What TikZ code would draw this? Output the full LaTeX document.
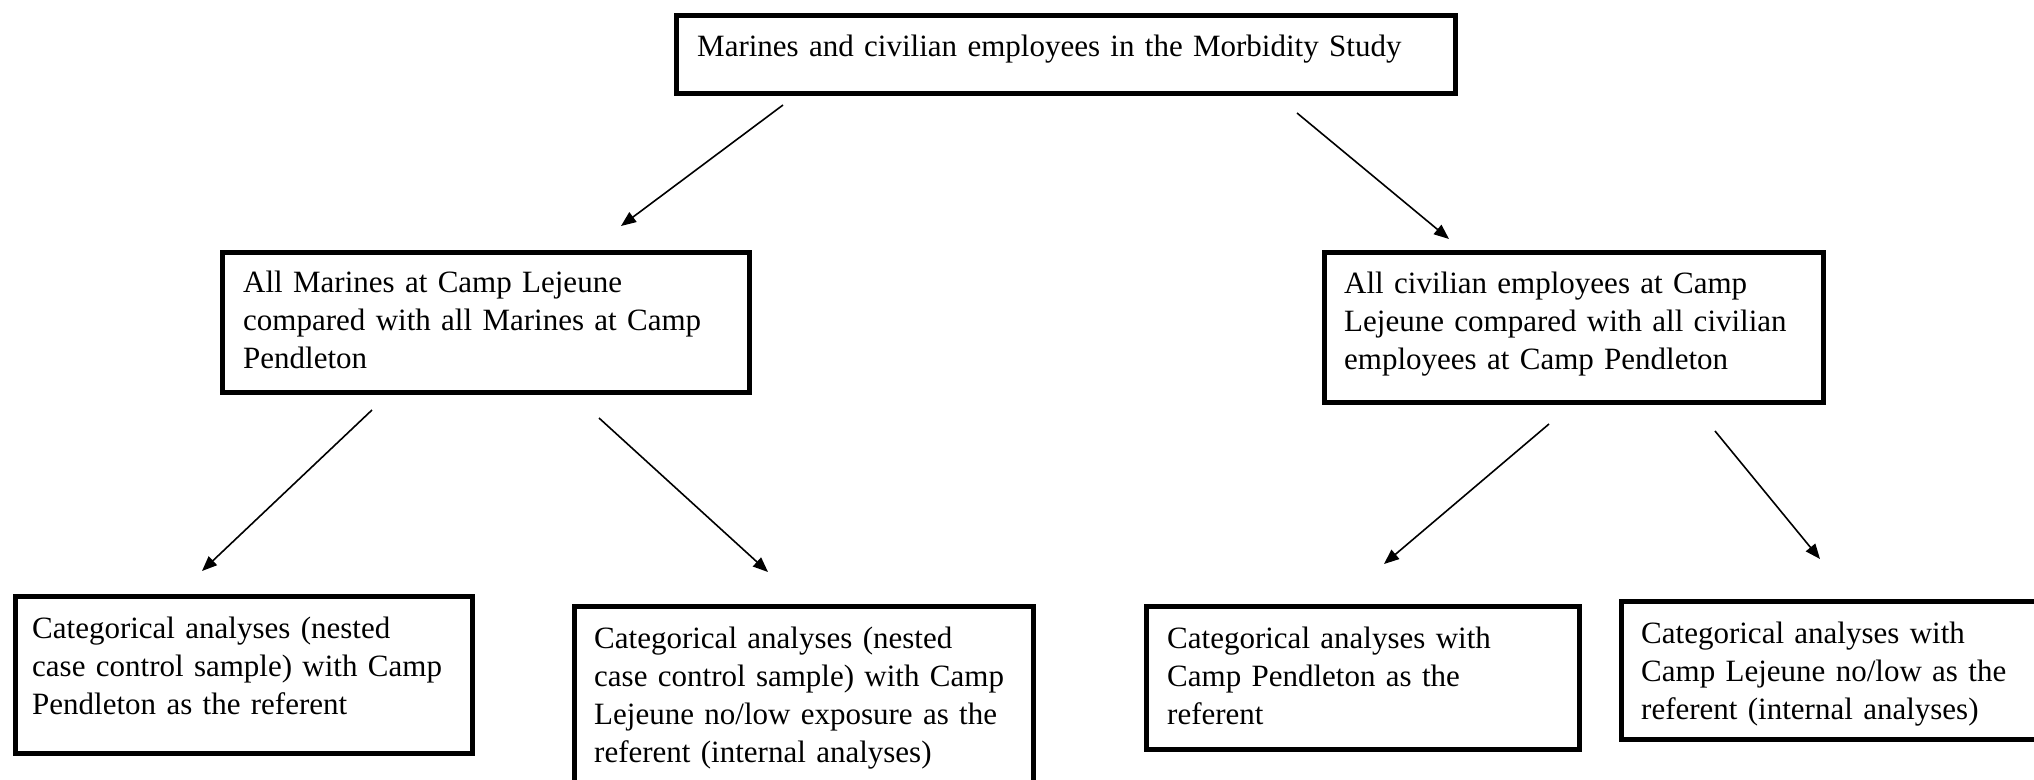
\documentclass[tikz,border=0pt]{standalone}
\usepackage{fontspec}
\setmainfont{Liberation Serif}
\usetikzlibrary{arrows.meta,calc}
\begin{document}
\begin{tikzpicture}[x=1pt,y=-1pt,
  box/.style={draw, line width=4.5pt, rectangle, anchor=north west, inner sep=0pt},
  txt/.style={anchor=base west, inner sep=0pt, align=left, text width=1000pt, font=\fontsize{31}{38}\selectfont},
  conn/.style={line width=1.6pt, -{Triangle[length=15pt,width=12pt]}}]
\useasboundingbox (0,0) rectangle (2034,779);
\clip (0,0) rectangle (2034,779);
% boxes
\node[box, minimum width=779pt, minimum height=78pt] (top) at (674,13) {};
\node[box, minimum width=527pt, minimum height=140pt] (ml) at (220,250) {};
\node[box, minimum width=499pt, minimum height=150pt] (mr) at (1322,250) {};
\node[box, minimum width=457pt, minimum height=157pt] (b1) at (13,594) {};
\node[box, minimum width=459pt, minimum height=210pt] (b2) at (572,604) {};
\node[box, minimum width=433pt, minimum height=143pt] (b3) at (1144,604) {};
\node[box, minimum width=440pt, minimum height=138pt] (b4) at (1619,599) {};
% texts
\node[txt] (toptext) at ($(top.north west)+(23,43)$) {Marines and civilian employees in the Morbidity Study};
\node[txt] (mltext) at ($(ml.north west)+(23,42)$) {All Marines at Camp Lejeune\\compared with all Marines at Camp\\Pendleton};
\node[txt] (mrtext) at ($(mr.north west)+(22,43)$) {All civilian employees at Camp\\Lejeune compared with all civilian\\employees at Camp Pendleton};
\node[txt] (b1text) at ($(b1.north west)+(19,44)$) {Categorical analyses (nested\\case control sample) with Camp\\Pendleton as the referent};
\node[txt] (b2text) at ($(b2.north west)+(22,44)$) {Categorical analyses (nested\\case control sample) with Camp\\Lejeune no/low exposure as the\\referent (internal analyses)};
\node[txt] (b3text) at ($(b3.north west)+(23,44)$) {Categorical analyses with\\Camp Pendleton as the\\referent};
\node[txt] (b4text) at ($(b4.north west)+(22,44)$) {Categorical analyses with\\Camp Lejeune no/low as the\\referent (internal analyses)};
% connectors
\coordinate (a1s) at (783,105);  \coordinate (a1e) at (621,226);
\coordinate (a2s) at (1297,113); \coordinate (a2e) at (1449,239);
\coordinate (a3s) at (372,410);  \coordinate (a3e) at (202,571);
\coordinate (a4s) at (599,418);  \coordinate (a4e) at (768,572);
\coordinate (a5s) at (1549,424); \coordinate (a5e) at (1384,564);
\coordinate (a6s) at (1715,431); \coordinate (a6e) at (1820,559);
\draw[conn] (a1s) -- (a1e);
\draw[conn] (a2s) -- (a2e);
\draw[conn] (a3s) -- (a3e);
\draw[conn] (a4s) -- (a4e);
\draw[conn] (a5s) -- (a5e);
\draw[conn] (a6s) -- (a6e);
\end{tikzpicture}
\end{document}
